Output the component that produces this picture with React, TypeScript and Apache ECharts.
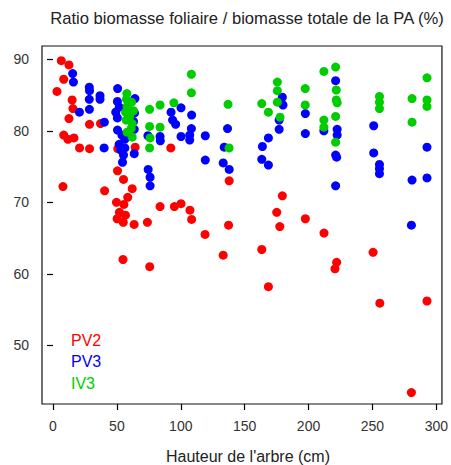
import React, { useEffect, useRef } from "react";
import * as echarts from "echarts";

const titleText = "Ratio biomasse foliaire / biomasse totale de la PA (%)";
const xTitle = "Hauteur de l'arbre (cm)";
const xTicks = [0, 50, 100, 150, 200, 250, 300];
const yTicks = [50, 60, 70, 80, 90];
const seriesNames = ["PV2", "PV3", "IV3"];
const seriesColors = ["#ff0000", "#0000ff", "#00cd00"];

const pv2: number[][] = [
  [6.5, 89.8], [12.5, 89.2], [8.4, 87.2], [3.1, 85.5], [15, 84.3], [15.6, 83.1],
  [12.5, 81.7], [28.6, 80.9], [37.2, 81.0], [8.4, 79.4], [11.7, 78.8], [16.4, 79.0],
  [20.8, 77.6], [28.6, 77.5], [50.7, 77.5], [64.3, 77.7], [92.2, 77.6], [7.8, 72.2],
  [40.4, 71.6], [50.5, 74.4], [55.2, 73.2], [62, 71.9], [58.5, 70.7], [49.7, 70.0],
  [55.5, 69.7], [52, 68.6], [56.7, 68.2], [50.2, 67.7], [55, 67.2], [63.5, 66.9],
  [54.8, 62.0], [75.7, 61.0], [73.9, 67.2], [83.8, 69.4], [95, 69.4], [100.2, 69.8],
  [107.2, 68.9], [108.5, 67.6], [119, 65.5], [133.2, 62.6], [137.4, 66.8], [137.9, 73.0],
  [163.4, 63.4], [168.6, 58.2], [175.1, 68.6], [177.5, 66.6], [179.5, 70.9], [197.5, 67.7],
  [212.1, 65.7], [220.7, 60.7], [222, 61.6], [250.5, 63.0], [255.8, 55.9], [280.5, 43.4],
  [292.7, 56.2],
];

const pv3: number[][] = [
  [15.4, 88.0], [16, 86.8], [28.4, 86.1], [28.6, 85.6], [36.8, 84.9], [36.8, 84.4],
  [28.4, 84.4], [28.5, 83.0], [20.7, 82.6], [40.2, 81.2], [40, 77.6],
  [50.6, 85.9], [50.4, 84.1], [51.8, 83.3], [49.1, 82.6], [50.4, 81.8], [57.8, 82.9],
  [64.1, 84.5], [63.8, 82.5], [63, 81.3], [63.6, 80.2], [50.5, 80.1], [53.9, 79.4],
  [56.2, 78.8], [51.8, 78.1], [56.2, 77.6], [53.1, 77.3], [55.2, 76.6], [63.6, 76.8],
  [54.4, 75.6], [74.5, 74.6], [76, 73.5], [76, 72.3], [74.3, 79.3], [83.8, 79.2],
  [84, 78.6], [92.4, 82.6], [93.6, 81.5], [96, 80.9], [100.2, 83.2], [108.5, 82.2],
  [108.3, 80.3], [107, 79.4], [107, 78.7], [100.2, 79.2], [119.2, 79.3], [119.2, 75.9],
  [134, 77.7], [136.6, 80.3], [133.2, 75.5], [137.9, 74.6],
  [163.9, 77.8], [168.6, 79.0], [163.4, 76.0], [168.6, 75.2], [177, 81.5], [177, 80.2],
  [179.5, 84.7], [180, 83.6], [197.5, 82.4], [197.5, 79.6], [221.2, 87.0], [212, 80.0],
  [222.4, 80.2], [222.4, 79.4], [221.2, 76.6], [222, 76.3], [221.2, 72.3], [251, 80.7],
  [251, 76.9], [255.5, 75.3], [255.5, 74.7], [255.5, 74.0], [281, 73.1], [292.7, 77.7],
  [292.7, 73.4], [280.5, 66.8],
];

const iv3: number[][] = [
  [57.8, 85.2], [57.5, 84.4], [61.5, 84.0], [58, 83.4], [63, 82.8], [56.8, 82.6],
  [60, 82.0], [57.3, 81.5], [62, 81.0], [61.2, 80.3], [58, 79.8], [62, 79.1],
  [75.6, 83.0], [83.8, 83.6], [94.6, 83.9], [75.6, 80.6], [83.8, 80.5], [76, 79.0],
  [75.6, 77.6], [108.3, 87.9], [108.3, 85.3], [137, 83.7], [137.8, 77.6], [163.4, 83.8],
  [168.6, 82.6], [175.6, 86.8], [175.6, 85.6], [175.6, 84.0], [177.7, 81.9], [197.4, 85.9],
  [197.4, 83.6], [212, 88.3], [221.2, 88.9], [221.7, 85.7], [221.7, 84.3], [222.4, 83.9],
  [221.2, 82.0], [212, 81.5], [212, 80.5], [221.2, 78.4], [255.5, 84.8], [255.5, 84.0],
  [255.5, 83.1], [281, 84.5], [281, 81.2], [292.7, 87.4], [292.7, 84.3], [292.7, 83.4],
];

const allSeries = [pv2, pv3, iv3];
const FONT = "'Liberation Sans', Arial, sans-serif";

export default function App() {
  const ref = useRef<HTMLDivElement>(null);
  useEffect(() => {
    if (!ref.current) return;
    document.body.style.margin = "0";
    const chart = echarts.init(ref.current, null, { renderer: "svg" });
    chart.setOption({
      animation: false,
      backgroundColor: "#ffffff",
      textStyle: { fontFamily: FONT },
      grid: {
        left: 42, right: 8, top: 46, bottom: 61,
        show: true, borderColor: "#111", borderWidth: 1.2, backgroundColor: "transparent",
      },
      xAxis: {
        type: "value", min: -8.6, max: 304.4,
        splitLine: { show: false },
        axisLine: { show: false },
        axisTick: { show: true, length: 6, customValues: xTicks, lineStyle: { color: "#000", width: 1.2 } },
        axisLabel: { customValues: xTicks, margin: 15, fontSize: 14, color: "#333", fontFamily: FONT },
      },
      yAxis: {
        type: "value", min: 41.8, max: 91.85,
        splitLine: { show: false },
        axisLine: { show: false },
        axisTick: { show: true, length: 6, customValues: yTicks, lineStyle: { color: "#000", width: 1.2 } },
        axisLabel: { customValues: yTicks, margin: 13, fontSize: 14, color: "#333", fontFamily: FONT },
      },
      graphic: [
        { type: "text", x: 247, y: 18, style: { text: titleText, fill: "#222", font: `16.6px ${FONT}`, textAlign: "center", textVerticalAlign: "middle" } },
        { type: "text", x: 248, y: 456, style: { text: xTitle, fill: "#222", font: `16px ${FONT}`, textAlign: "center", textVerticalAlign: "middle" } },
        ...seriesNames.map((n, i) => ({
          type: "text", x: 71, y: 340 + i * 21.5,
          style: { text: n, fill: seriesColors[i], font: `16px ${FONT}`, textAlign: "left", textVerticalAlign: "middle" },
        })),
      ],
      series: allSeries.map((d, i) => ({
        name: seriesNames[i],
        type: "scatter",
        data: d,
        symbol: "circle",
        symbolSize: 9,
        itemStyle: { color: seriesColors[i], opacity: 1 },
      })),
    });
    return () => chart.dispose();
  }, []);
  return <div ref={ref} style={{ width: 451, height: 465, position: "absolute", left: 0, top: 0 }} />;
}
